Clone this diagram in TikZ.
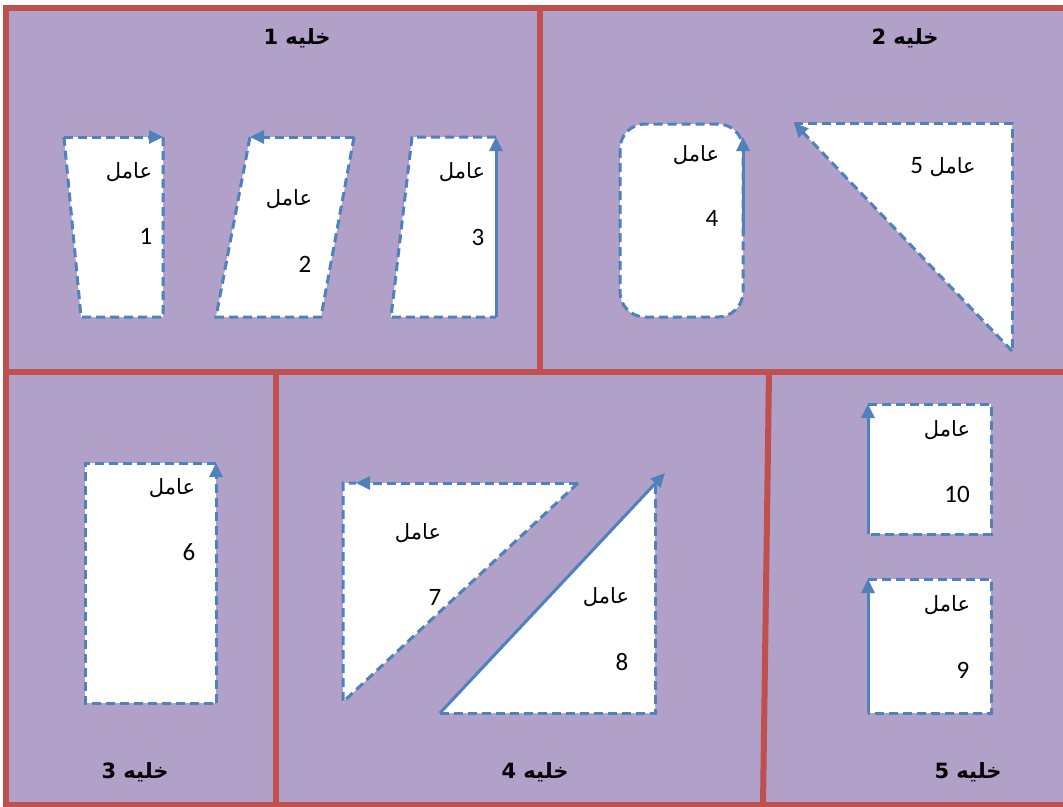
\documentclass[tikz,border=0pt]{standalone}
\usepackage{fontspec}
\usetikzlibrary{arrows.meta}
\TeXXeTstate=1
\newfontfamily\arabicfont[Script=Arabic]{DejaVu Sans}
\newfontfamily\numfont{Carlito}
\definecolor{bgpurple}{HTML}{B1A0C7}
\definecolor{framered}{HTML}{C0504D}
\definecolor{dashblue}{HTML}{4F81BD}
\begin{document}
\begin{tikzpicture}[x=1pt,y=-1pt,
  cellline/.style={draw=framered,line width=6pt},
  shapefill/.style={fill=white},
  shapeline/.style={draw=dashblue,line width=3pt,dash pattern=on 9pt off 5pt,line join=miter},
  arrline/.style={draw=dashblue,line width=3pt,-{Triangle[length=14pt,width=13pt]}},
  arrdash/.style={arrline,dash pattern=on 9pt off 5pt},
  word/.style={font=\arabicfont\fontsize{21}{21}\selectfont,inner sep=0pt},
  num/.style={font=\numfont\fontsize{25}{25}\selectfont,inner sep=0pt},
  title/.style={font=\arabicfont\bfseries\fontsize{21}{21}\selectfont,inner sep=0pt}]
\useasboundingbox (0,0) rectangle (1063,806);
\clip (0,0) rectangle (1063,806);
\fill[white] (0,0) rectangle (1063,806);
\fill[bgpurple] (6,8) rectangle (1063,806);
% frame
\draw[cellline] (6,8) -- (1070,8);
\draw[cellline] (6,5) -- (6,810);
\draw[cellline] (3,805) -- (1070,805);
\draw[cellline] (3,372) -- (1070,372);
\draw[cellline] (539.5,8) -- (539.5,372);
\draw[cellline] (276,372) -- (276,805);
\draw[cellline] (769,372) -- (763,805);
% titles
\node[title] (t1) at (297,38) {\beginR خليه 1\endR};
\node[title] (t2) at (905,38) {\beginR خليه 2\endR};
\node[title] (t3) at (135,772) {\beginR خليه 3\endR};
\node[title] (t4) at (535,772) {\beginR خليه 4\endR};
\node[title] (t5) at (968,772) {\beginR خليه 5\endR};
% shape 1
\coordinate (s1a) at (64,137); \coordinate (s1b) at (163,137);
\coordinate (s1c) at (163,317); \coordinate (s1d) at (81,317);
\fill[shapefill] (s1a)--(s1b)--(s1c)--(s1d)--cycle;
\draw[shapeline] (s1b)--(s1c)--(s1d)--(s1a);
\draw[arrdash] (s1a)--(s1b);
\node[word] (w1) at (129,172) {\beginR عامل\endR};
\node[num] (n1) at (146,236) {1};
% shape 2
\coordinate (s2a) at (250,137); \coordinate (s2b) at (354,137);
\coordinate (s2c) at (321,317); \coordinate (s2d) at (216,317);
\fill[shapefill] (s2a)--(s2b)--(s2c)--(s2d)--cycle;
\draw[shapeline] (s2b)--(s2c)--(s2d)--(s2a);
\draw[arrdash] (s2b)--(s2a);
\node[word] (w2) at (289,199) {\beginR عامل\endR};
\node[num] (n2) at (305,264) {2};
% shape 3
\coordinate (s3a) at (412,137); \coordinate (s3b) at (496,137);
\coordinate (s3c) at (496,317); \coordinate (s3d) at (391,317);
\fill[shapefill] (s3a)--(s3b)--(s3c)--(s3d)--cycle;
\draw[shapeline] (s3b)--(s3a)--(s3d)--(s3c);
\draw[arrline] (s3c)--(s3b);
\node[word] (w3) at (462,172) {\beginR عامل\endR};
\node[num] (n3) at (478,237) {3};
% shape 4
\coordinate (s4a) at (620,124); \coordinate (s4c) at (743,317);
\coordinate (s4t) at (743,137); \coordinate (s4m) at (743,235);
\fill[shapefill,rounded corners=25pt] (s4a) rectangle (s4c);
\draw[shapeline,rounded corners=25pt] (s4a) rectangle (s4c);
\draw[arrline] (s4m)--(s4t);
\node[word] (w4) at (696,155) {\beginR عامل\endR};
\node[num] (n4) at (712,218) {4};
% shape 5
\coordinate (s5a) at (794,123); \coordinate (s5b) at (1012,123);
\coordinate (s5c) at (1012,351);
\fill[shapefill] (s5a)--(s5b)--(s5c)--cycle;
\draw[shapeline] (s5a)--(s5b)--(s5c);
\draw[arrdash] (s5c)--(s5a);
\node[word] (w5) at (943,167) {\beginR عامل {\numfont\fontsize{25}{25}\selectfont 5}\endR};
% shape 6
\coordinate (s6a) at (85,463); \coordinate (s6b) at (216,463);
\coordinate (s6c) at (216,703); \coordinate (s6d) at (85,703);
\fill[shapefill] (s6a)--(s6b)--(s6c)--(s6d)--cycle;
\draw[shapeline] (s6b)--(s6a)--(s6d)--(s6c);
\draw[arrdash] (s6c)--(s6b);
\node[word] (w6) at (172,488) {\beginR عامل\endR};
\node[num] (n6) at (189,552) {6};
% shape 7
\coordinate (s7a) at (343,483); \coordinate (s7b) at (578,483);
\coordinate (s7c) at (343,702); \coordinate (s7t) at (356,483);
\fill[shapefill] (s7a)--(s7b)--(s7c)--cycle;
\draw[shapeline] (s7b)--(s7c)--(s7a)--(s7t);
\draw[arrdash] (s7b)--(s7t);
\node[word] (w7) at (418,533) {\beginR عامل\endR};
\node[num] (n7) at (435,597) {7};
% shape 8
\coordinate (s8a) at (440,713); \coordinate (s8b) at (655,713);
\coordinate (s8c) at (655,485); \coordinate (s8t) at (665,473);
\fill[shapefill] (s8a)--(s8b)--(s8c)--cycle;
\draw[shapeline] (s8a)--(s8b)--(s8c);
\draw[arrline] (s8a)--(s8t);
\node[word] (w8) at (606,597) {\beginR عامل\endR};
\node[num] (n8) at (622,662) {8};
% shape 9
\coordinate (s9a) at (868,579); \coordinate (s9b) at (991,579);
\coordinate (s9c) at (991,713); \coordinate (s9d) at (868,713);
\fill[shapefill] (s9a)--(s9b)--(s9c)--(s9d)--cycle;
\draw[shapeline] (s9a)--(s9b)--(s9c)--(s9d);
\draw[arrline] (s9d)--(s9a);
\node[word] (w9) at (947,605) {\beginR عامل\endR};
\node[num] (n9) at (963,670) {9};
% shape 10
\coordinate (s10a) at (868,404); \coordinate (s10b) at (991,404);
\coordinate (s10c) at (991,534); \coordinate (s10d) at (868,534);
\fill[shapefill] (s10a)--(s10b)--(s10c)--(s10d)--cycle;
\draw[shapeline] (s10a)--(s10b)--(s10c)--(s10d);
\draw[arrline] (s10d)--(s10a);
\node[word] (w10) at (947,430) {\beginR عامل\endR};
\node[num] (n10) at (957,494) {10};
\end{tikzpicture}
\end{document}
